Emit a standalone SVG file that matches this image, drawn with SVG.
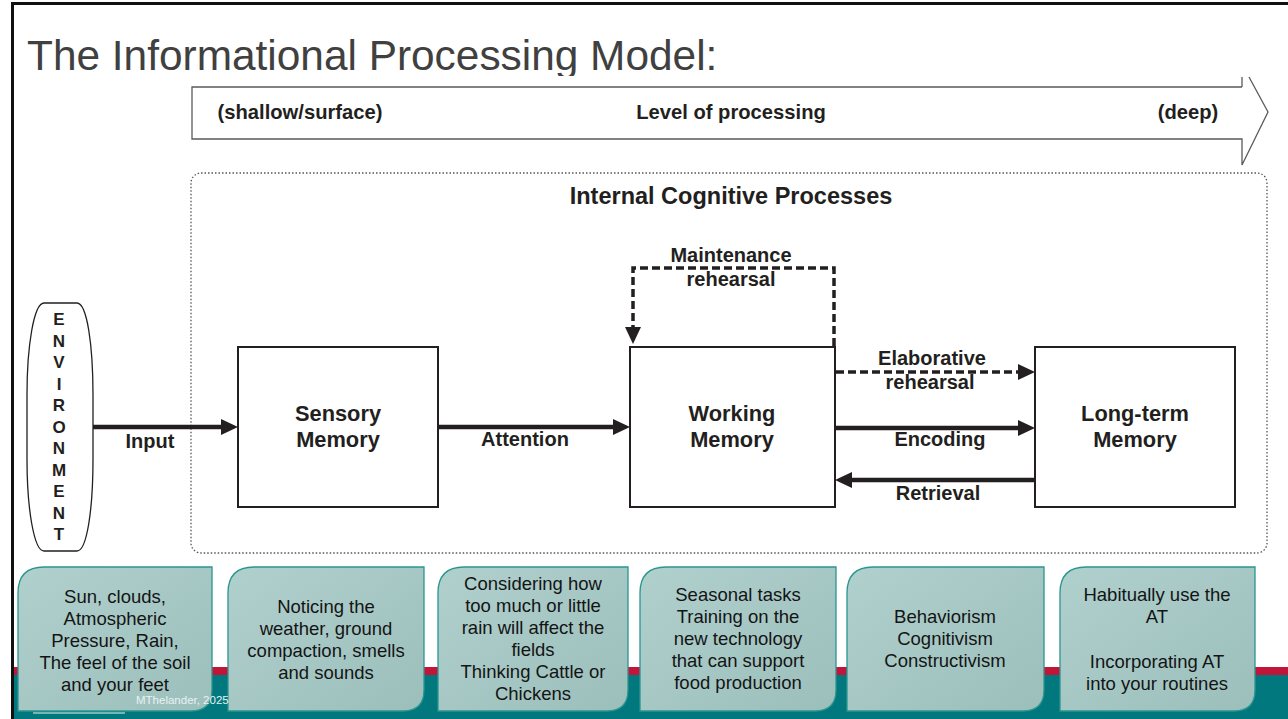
<svg xmlns="http://www.w3.org/2000/svg" width="1288" height="719" viewBox="0 0 1288 719">
  <style>
    .t { font-family: "Liberation Sans", Arial, sans-serif; }
    .b { font-family: "Liberation Sans", Arial, sans-serif; font-weight: bold; fill: #231f20; font-size: 20px; text-anchor: middle; }
    .bl { font-size: 21.8px; }
    .bb { font-size: 20.2px; }
    .bh { font-size: 23.5px; }
    .box { fill: #ffffff; stroke: #231f20; stroke-width: 2; }
    .solid { fill: none; stroke: #231f20; stroke-width: 4.5; }
    .dash { fill: none; stroke: #231f20; stroke-width: 3.5; stroke-dasharray: 8 4; }
    .card { fill: url(#cardGrad); stroke: #2a958f; stroke-width: 1.3; }
    .ct { font-family: "Liberation Sans", Arial, sans-serif; font-size: 18.5px; fill: #141414; text-anchor: middle; }
    .env { font-family: "Liberation Sans", Arial, sans-serif; font-weight: bold; font-size: 17px; fill: #231f20; text-anchor: middle; }
  </style>
  <defs>
    <linearGradient id="cardGrad" x1="0" y1="0" x2="1" y2="1">
      <stop offset="0" stop-color="#b0d0cd"/>
      <stop offset="1" stop-color="#9cbfbc"/>
    </linearGradient>
    <marker id="ah" markerUnits="userSpaceOnUse" markerWidth="18" markerHeight="17" refX="5" refY="8" orient="auto">
      <path d="M0,0 L17,8 L0,16 Z" fill="#231f20"/>
    </marker>
    <clipPath id="titleClip">
      <rect x="0" y="0" width="1288" height="76"/>
    </clipPath>
  </defs>

  <rect x="0" y="0" width="1288" height="719" fill="#ffffff"/>

  <!-- footer bands -->
  <rect x="13" y="667" width="1275" height="8" fill="#c31539"/>
  <rect x="13" y="675" width="1275" height="44" fill="#00787d"/>
  <line x1="33" y1="713" x2="125" y2="713" stroke="#9ccac8" stroke-width="1.5"/>

  <!-- slide border -->
  <line x1="11" y1="3.5" x2="1288" y2="3.5" stroke="#111" stroke-width="3"/>
  <line x1="12.5" y1="2" x2="12.5" y2="719" stroke="#111" stroke-width="3"/>

  <!-- title -->
  <text class="t" x="27" y="70" font-size="42.4" fill="#404040" clip-path="url(#titleClip)">The Informational Processing Model:</text>

  <!-- level of processing banner -->
  <g id="level-banner">
    <path d="M1242,87 V77 M1249,77 L1268,112 L1242,165 V139 H192 V87 H1242" fill="none" stroke="#5a5a5a" stroke-width="1.3"/>
    <text class="b bb" x="300" y="119">(shallow/surface)</text>
    <text class="b bb" x="731" y="119">Level of processing</text>
    <text class="b bb" x="1188" y="119">(deep)</text>
  </g>

  <!-- internal processes container -->
  <g id="internal-processes">
    <rect x="191" y="173" width="1076" height="380" rx="10" ry="10" fill="none" stroke="#555" stroke-width="1.3" stroke-dasharray="1.5 2"/>
    <text class="b bh" x="731" y="204">Internal Cognitive Processes</text>
  </g>

  <!-- environment -->
  <g id="environment">
    <path d="M44,303 H77 C87,303 93,345 93,395 V459 C93,509 87,551 77,551 H44 C34,551 27,509 27,459 V395 C27,345 34,303 44,303 Z" fill="#ffffff" stroke="#231f20" stroke-width="1.3"/>
    <text class="env" x="59" y="325">E</text>
    <text class="env" x="59" y="346.5">N</text>
    <text class="env" x="59" y="368">V</text>
    <text class="env" x="59" y="389.5">I</text>
    <text class="env" x="59" y="411">R</text>
    <text class="env" x="59" y="432.5">O</text>
    <text class="env" x="59" y="454">N</text>
    <text class="env" x="59" y="475.5">M</text>
    <text class="env" x="59" y="497">E</text>
    <text class="env" x="59" y="518.5">N</text>
    <text class="env" x="59" y="540">T</text>
  </g>

  <!-- nodes -->
  <g id="sensory-memory">
    <rect class="box" x="238" y="347" width="200" height="160"/>
    <text class="b bl" x="338" y="421">Sensory</text>
    <text class="b bl" x="338" y="447">Memory</text>
  </g>
  <g id="working-memory">
    <rect class="box" x="630" y="347" width="205" height="160"/>
    <text class="b bl" x="732" y="421">Working</text>
    <text class="b bl" x="732" y="447">Memory</text>
  </g>
  <g id="long-term-memory">
    <rect class="box" x="1035" y="347" width="200" height="160"/>
    <text class="b bl" x="1135" y="421">Long-term</text>
    <text class="b bl" x="1135" y="447">Memory</text>
  </g>

  <!-- connectors -->
  <g id="connectors">
    <line class="solid" x1="93" y1="427" x2="226" y2="427" marker-end="url(#ah)"/>
    <line class="solid" x1="438" y1="427" x2="618" y2="427" marker-end="url(#ah)"/>
    <line class="solid" x1="835" y1="428" x2="1023" y2="428" marker-end="url(#ah)"/>
    <line class="solid" x1="1035" y1="480" x2="847" y2="480" marker-end="url(#ah)"/>
    <line class="dash" x1="836" y1="372" x2="1023" y2="372" marker-end="url(#ah)"/>
    <path class="dash" d="M834,346 V268 H633 V332" marker-end="url(#ah)"/>
    <text class="b" x="150" y="448">Input</text>
    <text class="b" x="525" y="446">Attention</text>
    <text class="b" x="940" y="446">Encoding</text>
    <text class="b" x="938" y="500">Retrieval</text>
    <text class="b" x="932" y="365">Elaborative</text>
    <text class="b" x="930" y="389">rehearsal</text>
    <text class="b" x="731" y="262">Maintenance</text>
    <text class="b" x="731" y="286">rehearsal</text>
  </g>

  <!-- bottom cards -->
  <g id="card-1">
    <path class="card" d="M44,567 H212 V690 Q212,711 191,711 H18 V593 Q18,567 44,567 Z"/>
    <text class="ct" x="115" y="603">Sun, clouds,</text>
    <text class="ct" x="115" y="625">Atmospheric</text>
    <text class="ct" x="115" y="647">Pressure, Rain,</text>
    <text class="ct" x="115" y="669">The feel of the soil</text>
    <text class="ct" x="115" y="691">and your feet</text>
  </g>
  <g id="card-2">
    <path class="card" d="M254,567 H424 V690 Q424,711 403,711 H228 V593 Q228,567 254,567 Z"/>
    <text class="ct" x="326" y="613">Noticing the</text>
    <text class="ct" x="326" y="635">weather, ground</text>
    <text class="ct" x="326" y="657">compaction, smells</text>
    <text class="ct" x="326" y="679">and sounds</text>
  </g>
  <g id="card-3">
    <path class="card" d="M464,567 H628 V690 Q628,711 607,711 H438 V593 Q438,567 464,567 Z"/>
    <text class="ct" x="533" y="590">Considering how</text>
    <text class="ct" x="533" y="612">too much or little</text>
    <text class="ct" x="533" y="634">rain will affect the</text>
    <text class="ct" x="533" y="656">fields</text>
    <text class="ct" x="533" y="678">Thinking Cattle or</text>
    <text class="ct" x="533" y="700">Chickens</text>
  </g>
  <g id="card-4">
    <path class="card" d="M666,567 H836 V690 Q836,711 815,711 H640 V593 Q640,567 666,567 Z"/>
    <text class="ct" x="738" y="601">Seasonal tasks</text>
    <text class="ct" x="738" y="623">Training on the</text>
    <text class="ct" x="738" y="645">new technology</text>
    <text class="ct" x="738" y="667">that can support</text>
    <text class="ct" x="738" y="689">food production</text>
  </g>
  <g id="card-5">
    <path class="card" d="M873,567 H1044 V690 Q1044,711 1023,711 H847 V593 Q847,567 873,567 Z"/>
    <text class="ct" x="945" y="623">Behaviorism</text>
    <text class="ct" x="945" y="645">Cognitivism</text>
    <text class="ct" x="945" y="667">Constructivism</text>
  </g>
  <g id="card-6">
    <path class="card" d="M1086,567 H1255 V690 Q1255,711 1234,711 H1060 V593 Q1060,567 1086,567 Z"/>
    <text class="ct" x="1157" y="601">Habitually use the</text>
    <text class="ct" x="1157" y="623">AT</text>
    <text class="ct" x="1157" y="668">Incorporating AT</text>
    <text class="ct" x="1157" y="690">into your routines</text>
  </g>

  <text class="t" x="136" y="704" font-size="11.5" fill="#e8f2f2">MThelander, 2025</text>
</svg>
